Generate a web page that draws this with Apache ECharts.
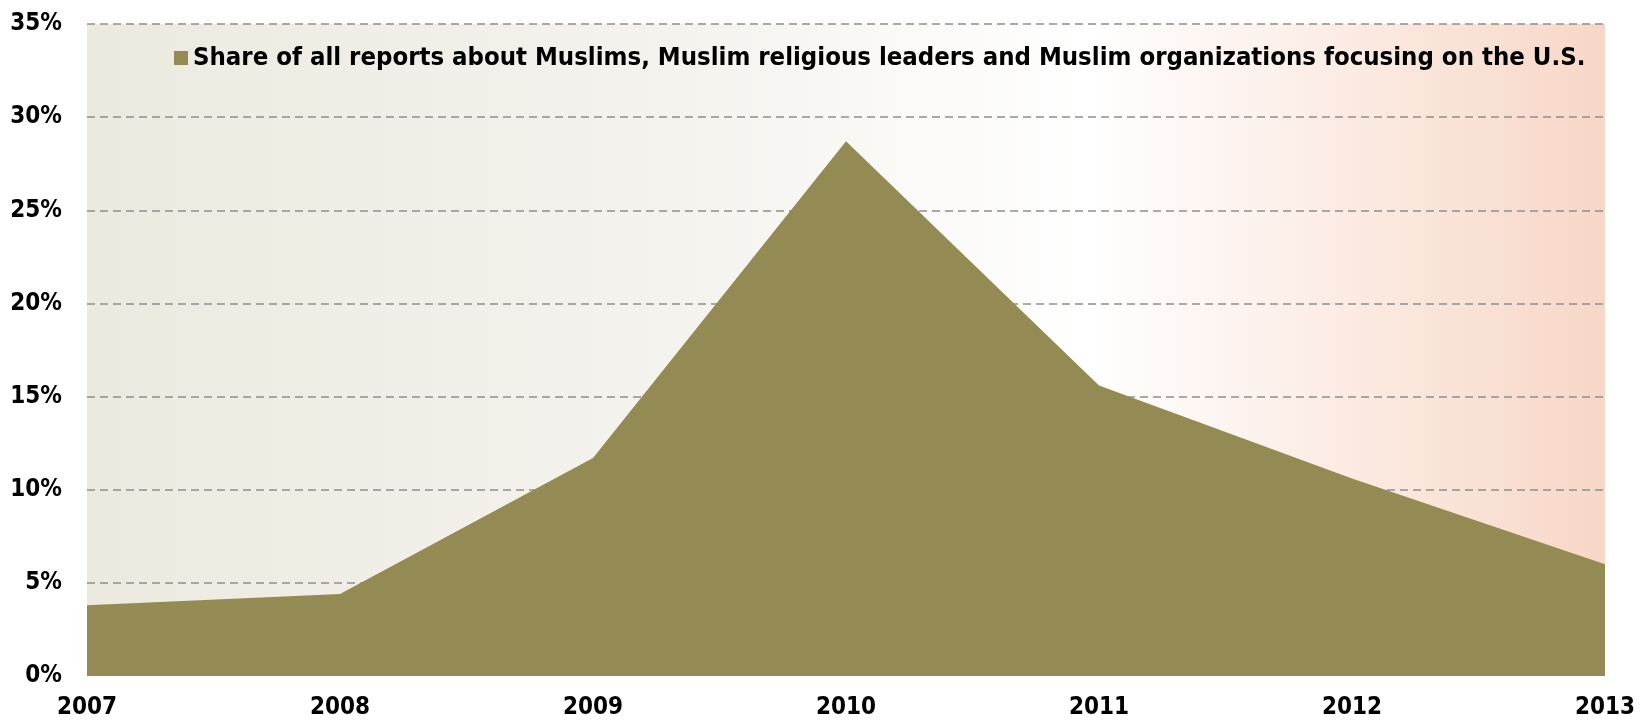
<!DOCTYPE html>
<html>
<head>
<meta charset="utf-8">
<style>
  html, body { margin: 0; padding: 0; background: #fff; }
  #chart { width: 1648px; height: 721px; }
</style>
<script src="https://cdn.jsdelivr.net/npm/echarts@6/dist/echarts.min.js"></script>
</head>
<body>
<div id="chart"></div>
<script>
const years = ['2007', '2008', '2009', '2010', '2011', '2012', '2013']
const usShare = [3.8, 4.4, 11.7, 28.7, 15.6, 10.6, 6.0]
const seriesName = 'Share of all reports about Muslims, Muslim religious leaders and Muslim organizations focusing on the U.S.'

const font = '"DejaVu Sans Condensed", "DejaVu Sans", sans-serif'
const chart = echarts.init(document.getElementById('chart'))

chart.setOption({
  animation: false,
  grid: {
    left: 87,
    right: 43,
    top: 24,
    bottom: 45,
    show: true,
    borderWidth: 0,
    backgroundColor: {
      type: 'linear', x: 0, y: 0, x2: 1, y2: 0,
      colorStops: [
        { offset: 0, color: '#ECE9DF' },
        { offset: 0.4, color: '#F5F3EE' },
        { offset: 0.66, color: '#FFFFFF' },
        { offset: 1, color: '#F7D7C7' }
      ]
    }
  },
  legend: {
    left: 169,
    top: 40,
    icon: 'rect',
    itemWidth: 14,
    itemHeight: 14,
    textStyle: { fontFamily: font, fontWeight: 'bold', fontSize: 25.5, color: '#000' },
    data: [{ name: seriesName, itemStyle: { color: '#948A54' } }]
  },
  xAxis: {
    type: 'category',
    data: years,
    boundaryGap: false,
    axisLine: { show: false },
    axisTick: { show: false },
    axisLabel: { margin: 20, fontFamily: font, fontWeight: 'bold', fontSize: 24, color: '#000' }
  },
  yAxis: {
    type: 'value',
    min: 0,
    max: 35,
    interval: 5,
    axisLine: { show: false },
    axisTick: { show: false },
    axisLabel: {
      margin: 25,
      formatter: '{value}%',
      fontFamily: font, fontWeight: 'bold', fontSize: 24, color: '#000'
    },
    splitLine: {
      showMinLine: false,
      lineStyle: { color: '#8E8E8E', width: 1.5, type: [8, 5] }
    }
  },
  series: [
    {
      name: seriesName,
      type: 'line',
      data: usShare,
      symbol: 'none',
      lineStyle: { width: 0 },
      itemStyle: { color: '#948A54' },
      areaStyle: { color: '#948A54', opacity: 1 },
      z: 3
    }
  ]
})
</script>
</body>
</html>
